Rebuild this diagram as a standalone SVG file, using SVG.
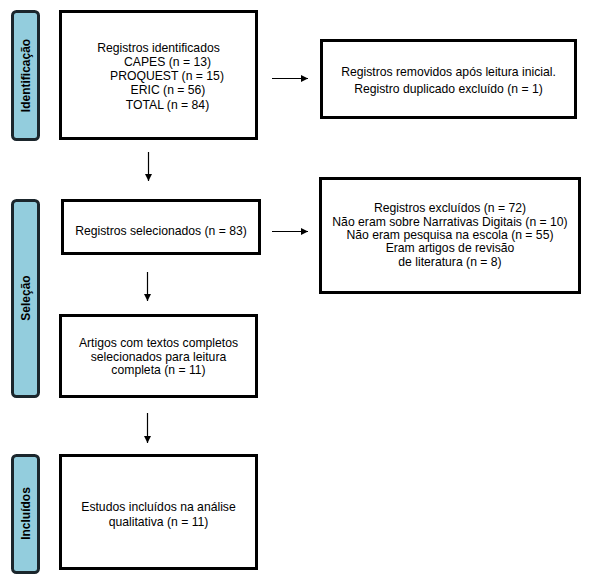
<svg xmlns="http://www.w3.org/2000/svg" width="591" height="582" viewBox="0 0 591 582">
<style>
.box{fill:#fff;stroke:#000;stroke-width:3}
.side{fill:#93cddd;stroke:#1b262c;stroke-width:3}
.t{font-family:"Liberation Sans",Arial,sans-serif;font-size:12.2px;fill:#000;text-anchor:middle}
.s{font-family:"Liberation Sans",Arial,sans-serif;font-size:12px;font-weight:bold;fill:#000;text-anchor:middle}
.c{stroke:#000;stroke-width:1.2;fill:none;marker-end:url(#ah)}
</style>
<defs>
<marker id="ah" viewBox="0 0 10 10" refX="10" refY="5" markerWidth="7" markerHeight="7" markerUnits="userSpaceOnUse" orient="auto">
<path d="M0,0 L10,5 L0,10 z" fill="#000"/>
</marker>
</defs>
<rect width="591" height="582" fill="#fff"/>
<g id="side-identificacao">
<rect class="side" x="12.5" y="11.5" width="26" height="128" rx="4"/>
<text class="s" transform="translate(30,75.5) rotate(-90)">Identificação</text>
</g>
<g id="side-selecao">
<rect class="side" x="12.5" y="200.5" width="26" height="196" rx="4"/>
<text class="s" transform="translate(30,298) rotate(-90)">Seleção</text>
</g>
<g id="side-incluidos">
<rect class="side" x="12.5" y="455.5" width="26" height="117" rx="4"/>
<text class="s" transform="translate(30,513.5) rotate(-90)">Incluídos</text>
</g>
<g id="n-identificados">
<rect class="box" x="60.5" y="11.5" width="196" height="127"/>
<text class="t" x="158.5" y="52">Registros identificados</text>
<text class="t" x="167.5" y="66">CAPES (n = 13)</text>
<text class="t" x="167" y="80">PROQUEST (n = 15)</text>
<text class="t" x="168" y="94">ERIC (n = 56)</text>
<text class="t" x="167.5" y="108.5">TOTAL (n = 84)</text>
</g>
<g id="n-removidos">
<rect class="box" x="321.5" y="40.5" width="254" height="77"/>
<text class="t" x="448.5" y="76">Registros removidos após leitura inicial.</text>
<text class="t" x="448.5" y="93">Registro duplicado excluído (n = 1)</text>
</g>
<g id="n-selecionados">
<rect class="box" x="62.5" y="200.5" width="197" height="53"/>
<text class="t" x="161" y="235">Registros selecionados (n = 83)</text>
</g>
<g id="n-excluidos">
<rect class="box" x="320.5" y="178.5" width="259" height="114"/>
<text class="t" x="450" y="212">Registros excluídos (n = 72)</text>
<text class="t" x="450" y="225.5">Não eram sobre Narrativas Digitais (n = 10)</text>
<text class="t" x="450" y="238.5">Não eram pesquisa na escola (n = 55)</text>
<text class="t" x="450" y="252">Eram artigos de revisão</text>
<text class="t" x="450" y="266">de literatura (n = 8)</text>
</g>
<g id="n-artigos">
<rect class="box" x="60.5" y="315.5" width="196" height="81"/>
<text class="t" x="158.5" y="347">Artigos com textos completos</text>
<text class="t" x="158.5" y="360.5">selecionados para leitura</text>
<text class="t" x="158.5" y="374">completa (n = 11)</text>
</g>
<g id="n-estudos">
<rect class="box" x="60.5" y="455.5" width="196" height="113"/>
<text class="t" x="158.5" y="511">Estudos incluídos na análise</text>
<text class="t" x="158.5" y="526">qualitativa (n = 11)</text>
</g>
<g id="connectors">
<line class="c" x1="272" y1="78.5" x2="308" y2="78.5"/>
<line class="c" x1="148.5" y1="152" x2="148.5" y2="181"/>
<line class="c" x1="272" y1="231.5" x2="308" y2="231.5"/>
<line class="c" x1="147.5" y1="272" x2="147.5" y2="301"/>
<line class="c" x1="147.5" y1="413" x2="147.5" y2="443"/>
</g>
</svg>
